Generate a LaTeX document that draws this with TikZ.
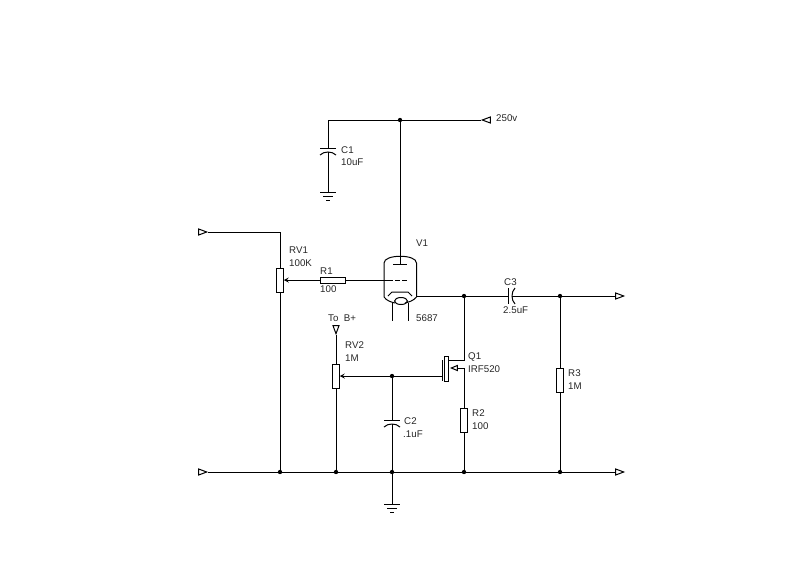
\documentclass[tikz,border=0pt]{standalone}
\usepackage{fontspec}
\setmainfont{Liberation Sans}
\usetikzlibrary{positioning}
\usetikzlibrary{shapes.geometric}

\tikzset{
	wire/.style={line width=0.3mm},
	res/.style={draw,line width=0.3mm,fill=white,rectangle,inner sep=0pt,minimum width=1.95mm,minimum height=7.2mm},
	hres/.style={draw,line width=0.3mm,fill=white,rectangle,inner sep=0pt,minimum width=7.5mm,minimum height=1.8mm},
	junc/.style={circle,fill=black,inner sep=0pt,minimum size=1.3mm},
	port/.style={draw,line width=0.3mm,fill=white,isosceles triangle,isosceles triangle stretches,inner sep=0pt,minimum height=2.4mm,minimum width=1.8mm,anchor=apex},
	lbl/.style={anchor=west,inner sep=0pt,font=\fontsize{8.3}{10}\selectfont,text=black!85}
}

\begin{document}
\begin{tikzpicture}[x=0.3mm,y=-0.3mm]
			
			\useasboundingbox (0,0) rectangle (800,560);
			
			% junctions
			\node (J1) at (400,120)[junc] {};
			\node (J2) at (280,472)[junc] {};
			\node (J3) at (336,472)[junc] {};
			\node (J4) at (392,472)[junc] {};
			\node (J5) at (464,472)[junc] {};
			\node (J6) at (560,472)[junc] {};
			\node (J7) at (464,296)[junc] {};
			\node (J8) at (560,296)[junc] {};
			\node (J9) at (392,376)[junc] {};
			
			% ports
			\node (inA) at (208,232)[port,shape border rotate=0] {};
			\node (inB) at (208,472)[port,shape border rotate=0] {};
			\node (outA) at (625,296)[port,shape border rotate=0] {};
			\node (outB) at (625,472)[port,shape border rotate=0] {};
			\node (supply) at (481,120)[port,shape border rotate=180] {};
			\node (toB) at (336,335)[port,shape border rotate=-90] {};
			
			% resistors
			\node (RV1) at (280,280)[res] {};
			\node (RV2) at (336,376)[res] {};
			\node (R1) at (332.5,280)[hres] {};
			\node (R2) at (464,420)[res] {};
			\node (R3) at (560,380)[res] {};
			
			% points on the parts
			\coordinate (c1) at (280,232);
			\coordinate (c2) at (328,120);
			\coordinate (C1a) at (328,148);
			\coordinate (C1b) at (328,152);
			\coordinate (G1) at (328,192);
			\coordinate (C2a) at (392,420);
			\coordinate (C2b) at (392,424);
			\coordinate (G2) at (392,504);
			\coordinate (C3a) at (508,296);
			\coordinate (C3b) at (512,296);
			\coordinate (V1a) at (400,264);
			\coordinate (V1g) at (384,280);
			\coordinate (V1p) at (416,296);
			\coordinate (Q1g) at (442,376);
			\coordinate (Q1d) at (448,360);
			\coordinate (c3) at (464,360);
			\coordinate (c4) at (464,368);
			
			% wires
			\draw[wire] (inA) -- (c1) -- (RV1);
			\draw[wire] (RV1) -- (J2);
			\draw[wire] (inB) -- (J2) -- (J3) -- (J4) -- (J5) -- (J6) -- (outB);
			\draw[wire] (supply) -- (J1) -- (c2) -- (C1a);
			\draw[wire] (C1b) -- (G1);
			\draw[wire] (J1) -- (V1a);
			\draw[wire,->,>=stealth] (R1) -- (RV1);
			\draw[wire] (R1) -- (V1g);
			\draw[wire] (V1p) -- (J7) -- (C3a);
			\draw[wire] (C3b) -- (J8) -- (outA);
			\draw[wire] (J7) -- (c3) -- (Q1d);
			\draw[wire] (toB) -- (RV2);
			\draw[wire] (RV2) -- (J3);
			\draw[wire,<-,>=stealth] (RV2) -- (J9);
			\draw[wire] (J9) -- (Q1g);
			\draw[wire] (J9) -- (C2a);
			\draw[wire] (C2b) -- (J4);
			\draw[wire] (J4) -- (G2);
			\draw[wire] (J8) -- (R3);
			\draw[wire] (R3) -- (J6);
			\draw[wire] (R2) -- (J5);
			\draw[wire] (c4) -- (R2);
			
			% capacitors and grounds
			\begin{scope}[shift={(C1a)}]
				\draw[wire] (-8,0) -- (8,0);
				\draw[wire] (-8,7) .. controls (-4,3) and (4,3) .. (8,7);
				\draw[wire] (-8,44) -- (8,44);
				\draw[wire] (-5,48) -- (5,48);
				\draw[wire] (-2,52) -- (2,52);
			\end{scope}
			
			\begin{scope}[shift={(C2a)}]
				\draw[wire] (-8,0) -- (8,0);
				\draw[wire] (-8,7) .. controls (-4,3) and (4,3) .. (8,7);
				\draw[wire] (-8,84) -- (8,84);
				\draw[wire] (-5,88) -- (5,88);
				\draw[wire] (-2,92) -- (2,92);
			\end{scope}
			
			\draw[wire] (508,288) -- (508,304);
			\draw[wire] (515,288) .. controls (511,292) and (511,300) .. (515,304);
			
			% tube
			\draw[wire] (384,297) -- (384,263) .. controls (384,254) and (416.5,254) .. (416.5,263) -- (416.5,297);
			\draw[wire] (384,297) .. controls (387,301) and (391,302) .. (395,303);
			\draw[wire] (416.5,297) .. controls (413,301) and (409,302) .. (405,303);
			\draw[wire] (393,264) -- (407,264);
			\draw[wire,dash pattern=on 2.7mm off 0.6mm on 1.5mm off 0.6mm on 1.5mm off 9mm] (384,280) -- (407,280);
			\draw[wire] (388,296) -- (392,292) -- (408,292) -- (412,296);
			\draw[wire] (401,301) ellipse (6.5 and 3.5);
			\draw[wire] (392,303) -- (392,321);
			\draw[wire] (408,303) -- (408,321);
			
			% mosfet
			\node (Q1) at (446.5,368.5)[draw,line width=0.3mm,fill=white,rectangle,inner sep=0pt,minimum width=1.2mm,minimum height=7.5mm] {};
			\draw[wire] (442,360) -- (442,381);
			\node (Q1s) at (450,368)[port,minimum height=1.8mm,minimum width=1.5mm,shape border rotate=180] {};
			\draw[wire] (Q1s) -- (c4);
			
			% labels
			\node (lV1) at (416,243)[lbl] {V1};
			\node (lC1) at (341,150)[lbl] {C1};
			\node (lC1v) at (341,162)[lbl] {10uF};
			\node (lsupply) at (496,118)[lbl] {250v};
			\node (lRV1) at (289,250)[lbl] {RV1};
			\node (lRV1v) at (289,263)[lbl] {100K};
			\node (lR1) at (320,271)[lbl] {R1};
			\node (lR1v) at (320,289)[lbl] {100};
			\node (lV1t) at (416,318)[lbl] {5687};
			\node (ltoB) at (328,318)[lbl] {To\ \ B+};
			\node (lRV2) at (345,345)[lbl] {RV2};
			\node (lRV2v) at (345,358)[lbl] {1M};
			\node (lC2) at (404,421)[lbl] {C2};
			\node (lC2v) at (403,434)[lbl] {.1uF};
			\node (lC3) at (504,282)[lbl] {C3};
			\node (lC3v) at (503,310)[lbl] {2.5uF};
			\node (lQ1) at (468,357)[lbl] {Q1};
			\node (lQ1v) at (468,369)[lbl] {IRF520};
			\node (lR2) at (472,413)[lbl] {R2};
			\node (lR2v) at (472,426)[lbl] {100};
			\node (lR3) at (568,373)[lbl] {R3};
			\node (lR3v) at (568,386)[lbl] {1M};
			
		\end{tikzpicture}
\end{document}
